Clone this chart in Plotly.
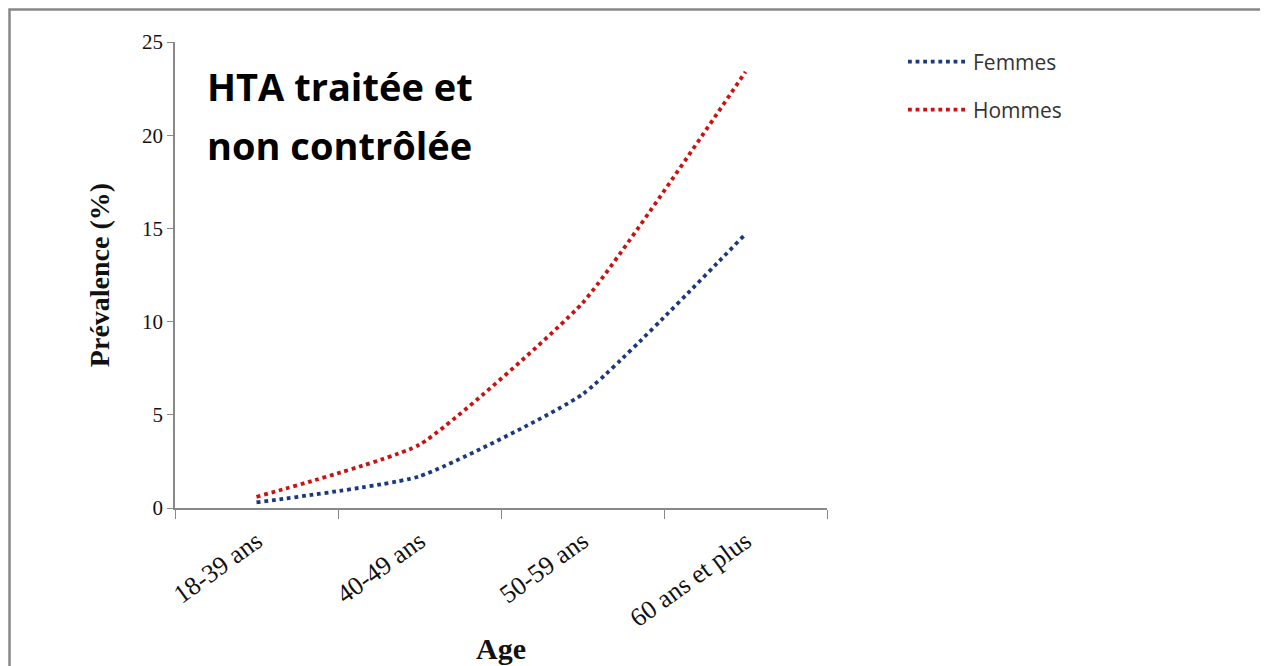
import plotly.graph_objects as go

ages = ["18-39 ans", "40-49 ans", "50-59 ans", "60 ans et plus"]
femmes = [0.3, 1.7, 6.1, 14.7]
hommes = [0.6, 3.4, 11.0, 23.4]

OFF = 8  # page body margin
W, H = 1268 - OFF, 666 - OFF
L, R, T, B = 175 - OFF, 827 - OFF, 42 - OFF, 508 - OFF


def px_x(x):
    # page pixel -> paper fraction
    return (x - OFF - L) / (R - L)


def px_y(y):
    return (B - (y - OFF)) / (B - T)


fig = go.Figure()
fig.add_trace(go.Scatter(
    x=ages, y=femmes, name="Femmes", mode="lines", legend="legend", showlegend=True,
    line=dict(color="#1b3a7c", width=3.8, dash="dot", shape="spline", smoothing=0.45),
))
fig.add_trace(go.Scatter(
    x=ages, y=hommes, name="Hommes", mode="lines", legend="legend2", showlegend=True,
    line=dict(color="#cc1111", width=3.8, dash="dot", shape="spline", smoothing=0.45),
))

fig.update_xaxes(
    type="category", range=[-0.5, 3.5], tickson="boundaries", ticks="outside", ticklen=9,
    tickcolor="#888", showline=True, linecolor="#888", linewidth=1.5, automargin=False,
    tickangle=-36, ticklabelstandoff=6,
    tickfont=dict(family="Liberation Serif", size=26, color="#111"),
    showgrid=False, zeroline=False,
)
fig.update_yaxes(
    range=[0, 25], dtick=5, ticks="outside", ticklen=6, tickcolor="#888", automargin=False,
    showline=True, linecolor="#888", linewidth=1.5, showgrid=False, zeroline=False,
    tickfont=dict(family="Liberation Serif", size=21, color="#111"),
    title=dict(text="<b>Prévalence (%)</b>",
               font=dict(family="Liberation Serif", size=28, color="#111"), standoff=24),
)

fig.add_annotation(
    text="<b>Age</b>", xref="paper", yref="paper", x=px_x(501), y=px_y(648),
    xanchor="center", yanchor="middle", showarrow=False,
    font=dict(family="Liberation Serif", size=30, color="#111"),
)

for line, yc in [("HTA traitée et", 86), ("non contrôlée", 145)]:
    fig.add_annotation(
        text=f"<b>{line}</b>", xref="paper", yref="paper",
        x=px_x(205), y=px_y(yc), xanchor="left", yanchor="middle", showarrow=False,
        font=dict(family="Open Sans", size=38, color="#000"),
    )

# frame around the whole picture
fig.add_shape(type="path", xref="paper", yref="paper",
              path=f"M {px_x(9.5)} {px_y(700)} L {px_x(9.5)} {px_y(9.5)} "
                   f"L {px_x(1265)} {px_y(9.5)} L {px_x(1265)} {px_y(700)}",
              line=dict(color="#888", width=2.5))

leg = dict(xanchor="left", yanchor="middle", bgcolor="rgba(0,0,0,0)", itemwidth=60,
           font=dict(family="Open Sans", size=21, color="#333"))
fig.update_layout(
    width=W, height=H, showlegend=True,
    margin=dict(l=L, r=W - R, t=T, b=H - B, autoexpand=False),
    plot_bgcolor="white", paper_bgcolor="white",
    legend=dict(x=px_x(903), y=px_y(62), **leg),
    legend2=dict(x=px_x(903), y=px_y(110), **leg),
)

fig.write_html("out.html")
